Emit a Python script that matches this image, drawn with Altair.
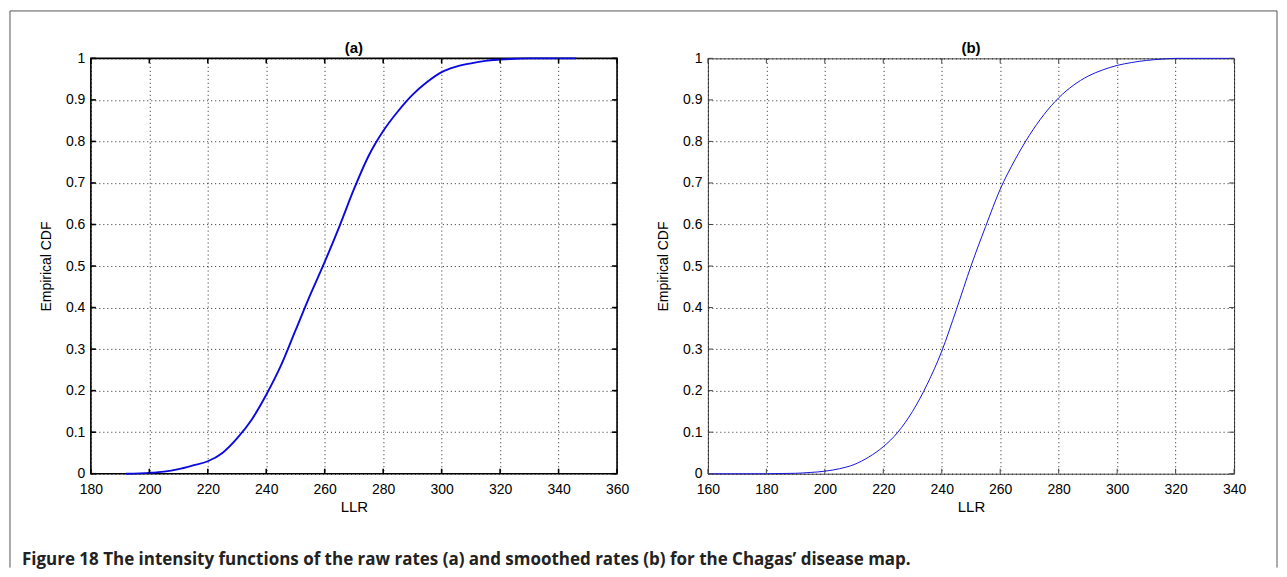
import altair as alt
import pandas as pd

# ---- data ----
LLR_A = [192, 200, 205, 210, 215, 220, 225, 230, 235, 240, 245, 250, 255, 260, 265,
         270, 275, 280, 285, 290, 295, 300, 305, 310, 315, 320, 325, 330, 340, 346]
CDF_A = [0.0, 0.002, 0.005, 0.011, 0.02, 0.03, 0.05, 0.085, 0.13, 0.19, 0.26, 0.345,
         0.43, 0.51, 0.595, 0.685, 0.765, 0.825, 0.872, 0.912, 0.943, 0.967, 0.98, 0.988,
         0.994, 0.997, 0.999, 1.0, 1.0, 1.0]

LLR_B = [160, 180, 185, 190, 195, 200, 205, 210, 215, 220, 225, 230, 235, 240, 245,
         250, 255, 260, 265, 270, 275, 280, 285, 290, 295, 300, 305, 310, 315, 320, 340]
CDF_B = [0.0, 0.0, 0.0005, 0.001, 0.003, 0.006, 0.012, 0.022, 0.04, 0.065, 0.1, 0.15,
         0.215, 0.295, 0.395, 0.5, 0.595, 0.685, 0.755, 0.815, 0.865, 0.905, 0.935, 0.957,
         0.972, 0.983, 0.99, 0.995, 0.998, 1.0, 1.0]

X_TICKS_A = [180, 200, 220, 240, 260, 280, 300, 320, 340, 360]
X_TICKS_B = [160, 180, 200, 220, 240, 260, 280, 300, 320, 340]
Y_TICKS = [0, 0.1, 0.2, 0.3, 0.4, 0.5, 0.6, 0.7, 0.8, 0.9, 1.0]

PANEL_TITLES = ["(a)", "(b)"]
X_TITLE = "LLR"
Y_TITLE = "Empirical CDF"
CAPTION = ("Figure 18 The intensity functions of the raw rates (a) and smoothed rates (b) "
           "for the Chagas\u2019 disease map.")

W, H = 527, 416
AXIS_FONT = "Liberation Sans"
TICK_LEN = 5


def panel(llr, cdf, xticks, title, line_w, line_color, box_color, box_w, extra=()):
    df = pd.DataFrame({"LLR": llr, "CDF": cdf})
    xscale = alt.Scale(domain=[xticks[0], xticks[-1]], nice=False, zero=False)
    yscale = alt.Scale(domain=[0, 1], nice=False, zero=False)
    xaxis = alt.Axis(values=xticks, title=X_TITLE, grid=True, domain=False, ticks=False,
                     labelFont=AXIS_FONT, labelFontSize=14, labelColor="black",
                     labelPadding=9, titleFont=AXIS_FONT, titleFontSize=15,
                     titleFontWeight="normal", titleColor="black", titlePadding=3,
                     gridColor="black", gridDash=[1, 3], gridOpacity=0.85,
                     labelFlush=False)
    yaxis = alt.Axis(values=Y_TICKS, format=".1~f", title=Y_TITLE, grid=True,
                     domain=False, ticks=False, labelFont=AXIS_FONT, labelFontSize=14,
                     labelColor="black", labelPadding=6, titleFont=AXIS_FONT,
                     titleFontSize=14, titleFontWeight="normal", titleColor="black",
                     titlePadding=12, gridColor="black", gridDash=[1, 3],
                     gridOpacity=0.85, labelFlush=False)

    line = alt.Chart(df).mark_line(color=line_color, strokeWidth=line_w,
                                   interpolate="monotone").encode(
        x=alt.X("LLR:Q", scale=xscale, axis=xaxis),
        y=alt.Y("CDF:Q", scale=yscale, axis=yaxis),
    )

    xt = pd.DataFrame({"LLR": xticks})
    yt = pd.DataFrame({"CDF": Y_TICKS})
    tx = alt.X("LLR:Q", scale=xscale, axis=xaxis)
    ty = alt.Y("CDF:Q", scale=yscale, axis=yaxis)
    tick_b = alt.Chart(xt).mark_rule(color=box_color, strokeWidth=box_w).encode(
        x=tx, y=alt.value(H), y2=alt.value(H - TICK_LEN))
    tick_t = alt.Chart(xt).mark_rule(color=box_color, strokeWidth=box_w).encode(
        x=tx, y=alt.value(0), y2=alt.value(TICK_LEN))
    tick_l = alt.Chart(yt).mark_rule(color=box_color, strokeWidth=box_w).encode(
        y=ty, x=alt.value(0), x2=alt.value(TICK_LEN))
    tick_r = alt.Chart(yt).mark_rule(color=box_color, strokeWidth=box_w).encode(
        y=ty, x=alt.value(W), x2=alt.value(W - TICK_LEN))

    ttl = alt.Chart(pd.DataFrame({"t": [title]})).mark_text(
        align="center", baseline="alphabetic", font=AXIS_FONT, fontSize=15,
        fontWeight="bold", color="black").encode(
        text="t:N", x=alt.value(W / 2), y=alt.value(-5))

    layers = [line, tick_b, tick_t, tick_l, tick_r, ttl] + list(extra)
    return alt.layer(*layers).properties(
        width=W, height=H,
        view=alt.ViewBackground(stroke=box_color, strokeWidth=box_w),
    )


one = pd.DataFrame({"k": [0]})
FRAME = "#555555"
frame_top = alt.Chart(one).mark_rule(color=FRAME, strokeWidth=1).encode(
    x=alt.value(-81), x2=alt.value(1188), y=alt.value(-47.5))
frame_left = alt.Chart(one).mark_rule(color=FRAME, strokeWidth=1).encode(
    x=alt.value(-81), y=alt.value(-47.5), y2=alt.value(510))
frame_right = alt.Chart(one).mark_rule(color=FRAME, strokeWidth=1).encode(
    x=alt.value(1188), y=alt.value(-47.5), y2=alt.value(510))
caption = alt.Chart(pd.DataFrame({"t": [CAPTION]})).mark_text(
    align="left", baseline="alphabetic", font="Open Sans", fontSize=17,
    fontWeight="bold", color="#222222").encode(
    text="t:N", x=alt.value(-69), y=alt.value(507))

pa = panel(LLR_A, CDF_A, X_TICKS_A, PANEL_TITLES[0], 1.9, "#0a0ae0", "black", 1.6,
           extra=[frame_top, frame_left, frame_right, caption])
pb = panel(LLR_B, CDF_B, X_TICKS_B, PANEL_TITLES[1], 1.0, "#1515e0", "#444444", 1.0)

chart = alt.hconcat(pa, pb, spacing=91, bounds="flush").properties(
    padding={"left": 0, "top": 1, "right": 0, "bottom": 0},
    background="white",
)

chart.save("out.html", embed_options={"renderer": "svg", "actions": False})
